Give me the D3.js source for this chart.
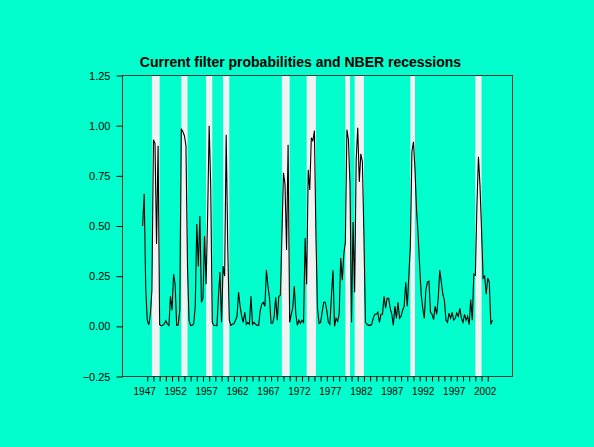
<!DOCTYPE html>
<html>
<head>
<meta charset="utf-8">
<script src="https://cdn.jsdelivr.net/npm/d3@7"></script>
<style>
  html, body { margin: 0; padding: 0; background: #00ffcc; }
  svg { display: block; }
  text { font-family: "Liberation Sans", Arial, Helvetica, sans-serif; }
</style>
</head>
<body>
<svg id="chart" width="594" height="447"></svg>
<script>
// Quarterly filtered recession probabilities, first observation 1947Q2
const firstQuarter = 1947.25;
const probabilities = [
  0.50, 0.66, 0.19, 0.03, 0.008, 0.06, 0.18, 0.93, 0.91, 0.41,
  0.90, 0.008, 0.003, 0.005, 0.012, 0.028, 0.012, 0.004, 0.15, 0.08,
  0.26, 0.21, 0.005, 0.006, 0.08, 0.985, 0.97, 0.95, 0.90, 0.30,
  0.03, 0.005, 0.005, 0.013, 0.10, 0.51, 0.30, 0.55, 0.12, 0.14,
  0.45, 0.21, 0.55, 1.00, 0.70, 0.02, 0.005, 0.004, 0.003, 0.15,
  0.27, 0.02, 0.30, 0.25, 0.955, 0.40, 0.03, 0.005, 0.01, 0.013,
  0.03, 0.05, 0.17, 0.10, 0.05, 0.02, 0.07, 0.01, 0.02, 0.01,
  0.15, 0.01, 0.02, 0.01, 0.005, 0.005, 0.08, 0.11, 0.12, 0.10,
  0.28, 0.20, 0.14, 0.015, 0.015, 0.05, 0.145, 0.03, 0.15, 0.155,
  0.45, 0.765, 0.71, 0.38, 0.905, 0.02, 0.06, 0.09, 0.20, 0.06,
  0.005, 0.03, 0.015, 0.03, 0.02, 0.44, 0.21, 0.78, 0.68, 0.94,
  0.925, 0.975, 0.45, 0.09, 0.015, 0.02, 0.07, 0.12, 0.12, 0.08,
  0.02, 0.01, 0.15, 0.28, 0.0, 0.04, 0.025, 0.06, 0.34, 0.23,
  0.36, 0.42, 0.98, 0.93, 0.70, 0.02, 0.52, 0.17, 0.83, 0.99,
  0.72, 0.86, 0.82, 0.45, 0.02, 0.01, 0.005, 0.005, 0.01, 0.04,
  0.06, 0.06, 0.07, 0.02, 0.06, 0.06, 0.15, 0.09, 0.14, 0.14,
  0.09, 0.06, 0.005, 0.10, 0.04, 0.12, 0.04, 0.05, 0.08, 0.10,
  0.22, 0.10, 0.25, 0.40, 0.87, 0.92, 0.78, 0.58, 0.46, 0.30,
  0.16, 0.09, 0.04, 0.18, 0.22, 0.225, 0.07, 0.06, 0.033, 0.10,
  0.06, 0.14, 0.28, 0.22, 0.16, 0.13, 0.03, 0.02, 0.066, 0.04,
  0.07, 0.03, 0.04, 0.066, 0.05, 0.09, 0.04, 0.02, 0.06, 0.03,
  0.05, 0.008, 0.133, 0.03, 0.26, 0.255, 0.60, 0.845, 0.70, 0.48,
  0.24, 0.25, 0.16, 0.24, 0.22, 0.01, 0.03
];

// NBER recessions: start of peak quarter to end of trough quarter
const recessionStarts = [1948.75, 1953.5, 1957.5, 1960.25, 1969.75, 1973.75, 1980.0, 1981.5, 1990.5, 2001.0];
const recessionEnds   = [1950.0, 1954.5, 1958.5, 1961.25, 1971.0, 1975.25, 1980.75, 1983.0, 1991.25, 2002.0];

const yTickValues = [-0.25, 0, 0.25, 0.5, 0.75, 1.0, 1.25];
const yearTicks = d3.range(1948, 2004);
const yearLabels = [1947, 1952, 1957, 1962, 1967, 1972, 1977, 1982, 1987, 1992, 1997, 2002];

const titleText = "Current filter probabilities and NBER recessions";

const W = 594, H = 447;
const plot = { left: 122.5, right: 512.5, top: 75.5, bottom: 376.5 };

const svg = d3.select("#chart");

svg.append("rect")
  .attr("width", W).attr("height", H)
  .attr("fill", "#00ffcc");

const x = d3.scaleLinear().domain([1944, 2007]).range([plot.left, plot.right]);
const y = d3.scaleLinear().domain([-0.25, 1.25]).range([plot.bottom, plot.top]);

// recession shading
svg.append("g")
  .selectAll("rect")
  .data(d3.zip(recessionStarts, recessionEnds))
  .join("rect")
  .attr("x", d => x(d[0]))
  .attr("width", d => x(d[1]) - x(d[0]))
  .attr("y", plot.top)
  .attr("height", plot.bottom - plot.top)
  .attr("fill", "#f2f2f2");

// probability line
const line = d3.line()
  .x((d, i) => x(firstQuarter + i * 0.25))
  .y(d => y(d));

svg.append("path")
  .datum(probabilities)
  .attr("d", line)
  .attr("fill", "none")
  .attr("stroke", "#000")
  .attr("stroke-width", 1.1)
  .attr("stroke-linejoin", "miter");

// plot frame
svg.append("rect")
  .attr("x", plot.left).attr("y", plot.top)
  .attr("width", plot.right - plot.left)
  .attr("height", plot.bottom - plot.top)
  .attr("fill", "none")
  .attr("stroke", "#1a3f36")
  .attr("stroke-width", 1);

// y axis
const yAxis = d3.axisLeft(y)
  .tickValues(yTickValues)
  .tickSize(6)
  .tickPadding(6)
  .tickFormat(d3.format(".2f"));

svg.append("g")
  .attr("transform", `translate(${plot.left},0)`)
  .call(yAxis)
  .call(g => g.select(".domain").remove())
  .call(g => g.selectAll("line").attr("stroke", "#000"))
  .call(g => g.selectAll("text")
    .attr("fill", "#000")
    .style("font-size", "11px")
    .style("font-family", "'Liberation Sans', Arial, sans-serif"));

// x axis: yearly tick marks
const xTickAxis = d3.axisBottom(x)
  .tickValues(yearTicks)
  .tickSize(5)
  .tickFormat("");

svg.append("g")
  .attr("transform", `translate(0,${plot.bottom})`)
  .call(xTickAxis)
  .call(g => g.select(".domain").remove())
  .call(g => g.selectAll("line").attr("stroke", "#000"));

// x axis: year labels centred on the year
const xLabelAxis = d3.axisBottom(x)
  .tickValues(yearLabels.map(d => d + 0.5))
  .tickSize(0)
  .tickPadding(11)
  .tickFormat(d => String(Math.floor(d)));

svg.append("g")
  .attr("transform", `translate(0,${plot.bottom})`)
  .call(xLabelAxis)
  .call(g => g.select(".domain").remove())
  .call(g => g.selectAll("text")
    .attr("fill", "#000")
    .style("font-size", "10px")
    .style("font-family", "'Liberation Sans', Arial, sans-serif"));

// title
svg.append("text")
  .attr("x", 300.5)
  .attr("y", 67)
  .attr("text-anchor", "middle")
  .style("font-size", "14px")
  .style("font-weight", "bold")
  .attr("fill", "#000")
  .text(titleText);
</script>
</body>
</html>
